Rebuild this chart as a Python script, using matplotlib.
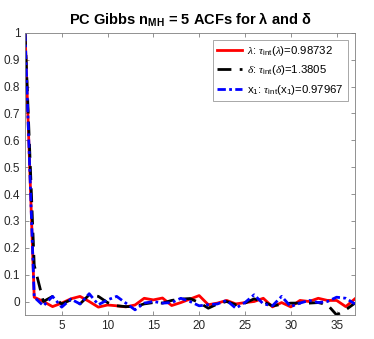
import numpy as np
from matplotlib import pyplot as plt
from matplotlib.ticker import FormatStrFormatter

plt.rcParams['font.family'] = ['Liberation Sans', 'DejaVu Sans']
plt.rcParams['mathtext.fontset'] = 'custom'
plt.rcParams['mathtext.rm'] = 'Liberation Sans'
plt.rcParams['mathtext.it'] = 'Liberation Serif:italic'
plt.rcParams['mathtext.bf'] = 'Liberation Sans:bold'

# lags
lags = np.arange(1, 38)

# ACF values
acf_lambda = [1.0, 0.016, 0.0, -0.019, -0.006, 0.010, 0.019, 0.0, -0.021, -0.013,
              -0.016, -0.020, -0.013, 0.012, 0.006, 0.013, -0.015, -0.004, 0.009, 0.022,
              -0.012, -0.006, 0.004, -0.009, -0.004, 0.0, 0.012, -0.020, -0.004, -0.020,
              0.004, 0.0, 0.012, 0.004, 0.004, -0.019, 0.010]
acf_delta = [1.0, 0.135, 0.0, 0.019, -0.009, 0.006, -0.009, 0.025, 0.019, -0.004,
             -0.016, -0.019, -0.019, -0.009, -0.004, -0.006, 0.004, 0.009, 0.011, -0.004,
             -0.025, -0.009, 0.0, -0.012, -0.006, 0.010, -0.001, -0.016, -0.011, -0.006,
             -0.006, -0.006, -0.004, -0.012, -0.050, -0.031, -0.006]
acf_x1 = [1.0, 0.016, -0.016, 0.019, -0.021, 0.009, -0.009, 0.029, -0.012, 0.006,
          0.019, -0.006, -0.031, -0.006, 0.0, -0.006, -0.004, 0.012, 0.0, -0.016,
          -0.012, -0.009, 0.004, -0.025, -0.004, 0.025, -0.009, -0.016, 0.019, -0.019,
          -0.006, 0.004, -0.004, 0.0, 0.016, 0.012, -0.009]

labels = [r'$\lambda$: $\tau_{\rm int}(\lambda)$=0.98732',
          r'$\delta$: $\tau_{\rm int}(\delta)$=1.3805',
          r'x$_1$: $\tau_{\rm int}$(x$_1$)=0.97967']

fig = plt.figure(figsize=(3.74, 3.39), dpi=100)
ax = fig.add_axes([0.067, 0.071, 0.882, 0.832])

ax.plot(lags, acf_lambda, color='red', lw=2, label=labels[0])
ax.plot(lags, acf_delta, color='black', lw=2, ls=(0, (5, 3)), label=labels[1])
ax.plot(lags, acf_x1, color='blue', lw=2, ls=(0, (3, 1.2, 1, 1.2)), label=labels[2])

ax.set_xlim(1, 37)
ax.set_ylim(-0.05, 1)
ax.set_xticks(np.arange(5, 36, 5))
ax.set_yticks(np.arange(0, 1.01, 0.1))
ax.yaxis.set_major_formatter(FormatStrFormatter('%g'))

grey = '#262626'
for s in ax.spines.values():
    s.set_color('#808080')
    s.set_linewidth(0.6)
ax.tick_params(direction='in', length=3, width=0.6, color='#808080',
               labelsize=8.5, labelcolor=grey, top=True, right=True)

ax.set_title(r'PC Gibbs n$_{\mathbf{MH}}$ = 5 ACFs for λ and δ',
             fontsize=10.5, fontweight='bold', pad=6)

leg = ax.legend(loc='upper right', fontsize=8.2, frameon=True, fancybox=False,
                edgecolor='#808080', handlelength=2.2, handletextpad=0.4,
                borderaxespad=0.6, labelspacing=0.45)
leg.get_frame().set_linewidth(0.6)

fig.savefig('out.png', dpi=100)
